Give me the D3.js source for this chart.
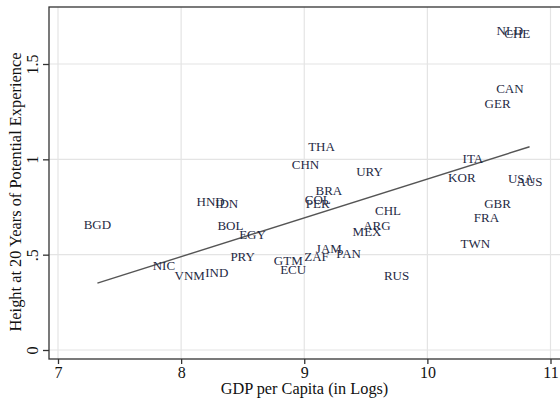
<!DOCTYPE html>
<html>
<head>
<meta charset="utf-8">
<script src="https://cdn.jsdelivr.net/npm/d3@7"></script>
<style>
  body { margin: 0; background: #fff; }
  svg { display: block; font-family: "Liberation Serif", "DejaVu Serif", serif; }
</style>
</head>
<body>
<div id="chart"></div>
<script>
// Country codes, log GDP per capita, height at 20 years of experience
var countries = ["BGD","NIC","VNM","IND","HND","IDN","BOL","EGY","PRY","GTM","ECU",
                 "THA","CHN","URY","BRA","COL","PER","CHL","ARG","MEX","JAM","ZAF",
                 "PAN","RUS","NLD","CHE","CAN","GER","ITA","KOR","USA","AUS","GBR",
                 "FRA","TWN"];
var gdp = [7.32, 7.86, 8.07, 8.29, 8.24, 8.37, 8.40, 8.58, 8.50, 8.87, 8.91,
           9.14, 9.01, 9.53, 9.20, 9.11, 9.11, 9.68, 9.59, 9.51, 9.20, 9.10,
           9.36, 9.75, 10.67, 10.73, 10.67, 10.57, 10.37, 10.28, 10.76, 10.83, 10.57,
           10.48, 10.39];
var height = [0.661, 0.446, 0.393, 0.409, 0.778, 0.766, 0.652, 0.608, 0.493, 0.472, 0.420,
              1.066, 0.974, 0.935, 0.839, 0.792, 0.766, 0.730, 0.652, 0.624, 0.535, 0.493,
              0.509, 0.393, 1.678, 1.662, 1.374, 1.295, 1.007, 0.907, 0.902, 0.886, 0.766,
              0.697, 0.561];

// Linear fit
var fitIntercept = -1.140, fitSlope = 0.2037;

var xTicks = [7, 8, 9, 10, 11];
var yTicks = [0, 0.5, 1, 1.5];
var yTickLabels = ["0", ".5", "1", "1.5"];

var width = 560, svgHeight = 398;
var frame = {left: 49, top: 7, right: 600, bottom: 359};

var svg = d3.select('#chart').append('svg')
    .attr('width', width)
    .attr('height', svgHeight);

var x = d3.scaleLinear().domain([7, 11]).range([58, 550.5]);
var y = d3.scaleLinear().domain([0, 1.5]).range([350, 64]);

// Gridlines
svg.append('g').selectAll('line.vgrid')
    .data(xTicks).enter().append('line')
    .attr('x1', function(d) { return x(d); })
    .attr('x2', function(d) { return x(d); })
    .attr('y1', frame.top).attr('y2', frame.bottom)
    .attr('stroke', '#e4e4e4').attr('stroke-width', 1.2);

svg.append('g').selectAll('line.hgrid')
    .data(yTicks).enter().append('line')
    .attr('x1', frame.left).attr('x2', frame.right)
    .attr('y1', function(d) { return y(d); })
    .attr('y2', function(d) { return y(d); })
    .attr('stroke', '#e4e4e4').attr('stroke-width', 1.2);

// Frame
svg.append('rect')
    .attr('x', frame.left).attr('y', frame.top)
    .attr('width', frame.right - frame.left)
    .attr('height', frame.bottom - frame.top)
    .attr('fill', 'none').attr('stroke', '#333').attr('stroke-width', 1.3);

// Axes
var xAxis = d3.axisBottom(x).tickValues(xTicks).tickSize(5).tickPadding(3)
    .tickFormat(d3.format('d'));
svg.append('g')
    .attr('transform', 'translate(0,' + frame.bottom + ')')
    .call(xAxis)
    .call(function(g) { g.select('.domain').remove(); })
    .call(function(g) {
        g.selectAll('line').attr('stroke', '#333').attr('stroke-width', 1.3);
        g.selectAll('text').attr('font-family', 'Liberation Serif').attr('font-size', 16)
            .attr('fill', '#111');
    });

var yAxis = d3.axisLeft(y).tickValues(yTicks).tickSize(6).tickPadding(0)
    .tickFormat(function(d, i) { return yTickLabels[i]; });
svg.append('g')
    .attr('transform', 'translate(' + frame.left + ',0)')
    .call(yAxis)
    .call(function(g) { g.select('.domain').remove(); })
    .call(function(g) {
        g.selectAll('line').attr('stroke', '#333').attr('stroke-width', 1.3);
        g.selectAll('text')
            .attr('font-family', 'Liberation Serif').attr('font-size', 16)
            .attr('fill', '#111')
            .attr('x', 0).attr('dy', 0)
            .attr('text-anchor', 'middle')
            .attr('transform', 'translate(-11,0) rotate(-90)');
    });

// Axis titles
svg.append('text')
    .attr('x', 304.5).attr('y', 394)
    .attr('text-anchor', 'middle')
    .attr('font-size', 16.3).attr('fill', '#111')
    .text('GDP per Capita (in Logs)');

svg.append('text')
    .attr('transform', 'translate(21,' + 192 + ') rotate(-90)')
    .attr('text-anchor', 'middle')
    .attr('font-size', 16.4).attr('fill', '#111')
    .text('Height at 20 Years of Potential Experience');

// Fitted line across the data range
var xExtent = d3.extent(gdp);
svg.append('line')
    .attr('x1', x(xExtent[0])).attr('y1', y(fitIntercept + fitSlope * xExtent[0]))
    .attr('x2', x(xExtent[1])).attr('y2', y(fitIntercept + fitSlope * xExtent[1]))
    .attr('stroke', '#555').attr('stroke-width', 1.4);

// Country labels centred on points
svg.append('g').selectAll('text.label')
    .data(countries).enter().append('text')
    .attr('class', 'label')
    .attr('x', function(d, i) { return x(gdp[i]); })
    .attr('y', function(d, i) { return y(height[i]); })
    .attr('dy', '0.35em')
    .attr('text-anchor', 'middle')
    .attr('font-size', 13)
    .attr('fill', '#1f2a44')
    .text(function(d) { return d; });
</script>
</body>
</html>
